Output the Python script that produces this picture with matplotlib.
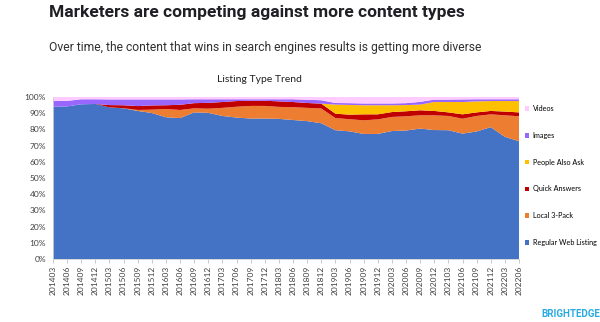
import matplotlib
matplotlib.use("Agg")
import matplotlib.pyplot as plt
from matplotlib.patches import Patch
import numpy as np

# quarterly snapshots, 2014-03 .. 2022-06
periods = ["201403", "201406", "201409", "201412", "201503", "201506", "201509", "201512",
           "201603", "201606", "201609", "201612", "201703", "201706", "201709", "201712",
           "201803", "201806", "201809", "201812", "201903", "201906", "201909", "201912",
           "202003", "202006", "202009", "202012", "202103", "202106", "202109", "202112",
           "202203", "202206"]

# share of listings per type (percent)
regular_web = [94.0, 94.2, 95.5, 95.7, 93.6, 93.0, 91.4, 90.1, 87.5, 87.0, 90.5, 90.2,
               88.3, 87.3, 86.7, 86.7, 86.5, 85.8, 85.1, 83.8, 79.5, 78.8, 77.2, 77.2,
               79.0, 79.3, 80.5, 79.6, 79.5, 77.4, 78.7, 81.4, 75.4, 72.7]
local_3pack = [0.0, 0.0, 0.0, 0.0, 0.0, 0.1, 0.6, 2.1, 5.1, 5.0, 2.5, 2.6,
               5.0, 6.7, 7.8, 7.8, 7.4, 7.9, 8.2, 9.1, 7.5, 7.5, 8.4, 9.0,
               8.7, 8.8, 8.2, 9.1, 8.8, 9.2, 9.6, 7.9, 13.3, 15.4]
quick_answers = [0.0, 0.0, 0.0, 0.0, 1.4, 1.8, 2.4, 2.6, 2.3, 3.2, 3.2, 3.6,
                 3.6, 3.5, 3.2, 3.2, 3.4, 3.2, 3.0, 3.0, 2.7, 2.8, 3.7, 3.1,
                 3.0, 3.1, 3.1, 2.7, 2.2, 2.7, 2.2, 2.1, 2.3, 2.4]
people_also_ask = [0.0, 0.0, 0.0, 0.0, 0.0, 0.0, 0.0, 0.0, 0.0, 0.0, 0.0, 0.0,
                   0.0, 0.0, 0.0, 0.0, 0.0, 0.0, 0.0, 0.0, 5.6, 6.0, 5.6, 5.6,
                   4.2, 3.8, 3.5, 5.5, 6.4, 7.6, 6.8, 6.1, 6.5, 7.0]
images = [3.5, 3.4, 3.1, 2.9, 3.5, 3.6, 4.1, 3.7, 3.6, 3.3, 2.4, 2.2,
          1.7, 1.1, 0.9, 0.9, 1.3, 1.7, 2.0, 2.1, 1.0, 1.1, 1.1, 1.1,
          1.1, 1.2, 1.7, 1.5, 1.5, 1.6, 1.3, 1.1, 1.1, 1.1]
videos = [2.5, 2.4, 1.4, 1.4, 1.5, 1.5, 1.5, 1.5, 1.5, 1.5, 1.4, 1.4,
          1.4, 1.4, 1.4, 1.4, 1.4, 1.4, 1.7, 2.0, 3.7, 3.8, 4.0, 4.0,
          4.0, 3.8, 3.0, 1.6, 1.6, 1.5, 1.4, 1.4, 1.4, 1.4]

names = ["Regular Web Listing", "Local 3-Pack", "Quick Answers",
         "People Also Ask", "Images", "Videos"]
colors = ["#4472C4", "#ED7D31", "#C00000", "#FFC000", "#9966FF", "#FFCCFF"]

series = np.array([regular_web, local_3pack, quick_answers,
                   people_also_ask, images, videos])
# 100% stacked: normalise each period
series = series / series.sum(axis=0) * 100
x = np.arange(len(periods))

fig = plt.figure(figsize=(6, 3.22), dpi=100)
fig.patch.set_facecolor("white")

fig.text(0.428, 1 - 12 / 322, "Marketers are competing against more content types",
         ha="center", va="center", fontsize=12.5, fontweight="bold",
         family="Roboto", color="#1f1f24")
fig.text(0.442, 1 - 47 / 322,
         "Over time, the content that wins in search engines results is getting more diverse",
         ha="center", va="center", fontsize=8.7, family="Roboto", color="#303030")
fig.text(0.433, 1 - 79 / 322, "Listing Type Trend", ha="center", va="center",
         fontsize=7.5, family="Lato", color="#202020")

ax = fig.add_axes([53 / 600, 63 / 322, 466 / 600, 162 / 322])
ax.stackplot(x, series, colors=colors, linewidth=0)
ax.set_xlim(0, len(periods) - 1)
ax.set_ylim(0, 100)

ax.set_xticks(x)
ax.set_xticklabels(periods, rotation=90, fontsize=6, family="Lato", color="#404040")
ax.set_yticks(np.arange(0, 101, 10))
ax.set_yticklabels([f"{v}%" for v in range(0, 101, 10)], fontsize=6,
                   family="Lato", color="#404040")
ax.tick_params(axis="x", length=3, width=0.6, color="#bfbfbf", pad=2)
ax.tick_params(axis="y", length=0, pad=5)
for side in ["top", "right"]:
    ax.spines[side].set_visible(False)
for side in ["left", "bottom"]:
    ax.spines[side].set_color("#d0d0d0")
    ax.spines[side].set_linewidth(0.6)

handles = [Patch(facecolor=c, edgecolor="none", label=n) for n, c in zip(names, colors)]
fig.legend(handles=handles[::-1], loc="upper left", bbox_to_anchor=(525 / 600, 1 - 105 / 322),
           frameon=False, handlelength=0.6, handleheight=0.6,
           handletextpad=0.45, labelspacing=2.74, borderaxespad=0, borderpad=0,
           prop={"family": "Lato", "size": 5.2})

fig.text(0.951, 0.026, "BRIGHTEDGE", ha="center", va="center", fontsize=7,
         fontweight="bold", family="Roboto", color="#29ABE2")

fig.savefig("out.png", dpi=100)
